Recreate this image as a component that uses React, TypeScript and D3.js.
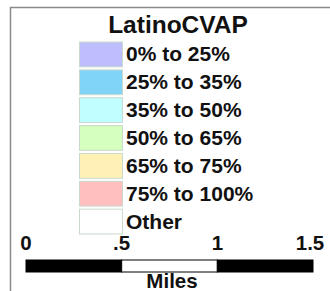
import React from "react";
import * as d3 from "d3";

const classLabels = ["0% to 25%", "25% to 35%", "35% to 50%", "50% to 65%", "65% to 75%", "75% to 100%", "Other"];
const classColors = ["#bebefd", "#7fd4f8", "#bfffff", "#d4ffbf", "#fff1b6", "#ffbfbf", "#ffffff"];
const scaleTicks = [0, 0.5, 1, 1.5];
const tickLabels = ["0", ".5", "1", "1.5"];

const width = 330;
const height = 291;

export default function App() {
  // legend rows
  const y = d3
    .scaleBand<string>()
    .domain(classLabels)
    .range([41, 234])
    .paddingInner(0.11)
    .paddingOuter(0.02);

  // scale bar in miles
  const x = d3.scaleLinear().domain([0, 1.5]).range([26, 313]);
  const segments = d3.pairs(scaleTicks);

  return (
    <svg
      width={width}
      height={height}
      style={{ position: "absolute", left: 0, top: 0, background: "#fff" }}
      fontFamily="'Liberation Sans', Arial, sans-serif"
      fontWeight="bold"
    >
      {/* frame */}
      <path d={`M10.5,${height} V7.5 H${width}`} fill="none" stroke="#8a8a8a" strokeWidth={1.5} />

      <text x={178} y={33} textAnchor="middle" fontSize={24.5} fill="#111">
        LatinoCVAP
      </text>

      {classLabels.map((d, i) => (
        <g key={d}>
          <rect
            x={79.5}
            y={y(d)! + 0.5}
            width={43}
            height={y.bandwidth()}
            fill={classColors[i]}
            stroke="#c9d9cc"
            strokeWidth={1}
          />
          <text x={126} y={y(d)! + y.bandwidth() / 2 + 7.5} fontSize={21} fill="#111">
            {d}
          </text>
        </g>
      ))}

      {scaleTicks.map((t, i) => (
        <text key={t} x={x(t) + (i === scaleTicks.length - 1 ? -3 : 0)} y={250} textAnchor="middle" fontSize={20.5} fill="#111">
          {tickLabels[i]}
        </text>
      ))}

      {segments.map(([a, b], i) => (
        <rect
          key={a}
          x={x(a)}
          y={260}
          width={x(b) - x(a)}
          height={12}
          fill={i % 2 === 0 ? "#000" : "#fff"}
          stroke="#000"
          strokeWidth={1}
        />
      ))}

      <text x={172} y={288} textAnchor="middle" fontSize={20.5} fill="#111">
        Miles
      </text>
    </svg>
  );
}
